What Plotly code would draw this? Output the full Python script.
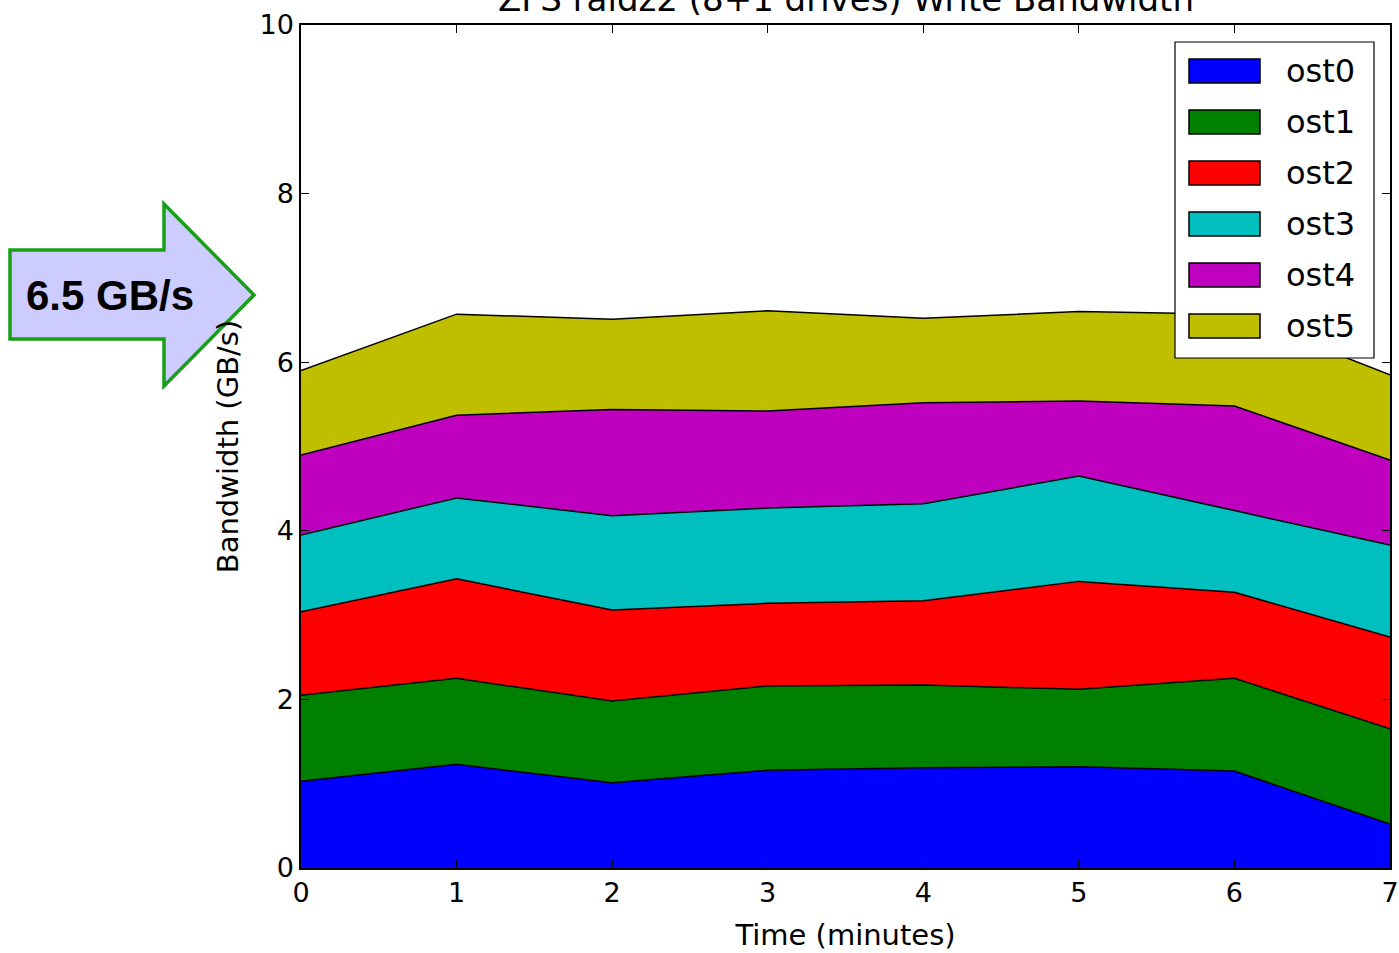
import plotly.graph_objects as go

# ---- data ----
minutes = [0, 1, 2, 3, 4, 5, 6, 7]
ost0 = [1.03, 1.23, 1.01, 1.16, 1.19, 1.20, 1.15, 0.52]
ost1 = [1.02, 1.02, 0.97, 1.00, 0.98, 0.92, 1.10, 1.13]
ost2 = [0.99, 1.18, 1.08, 0.98, 1.00, 1.28, 1.02, 1.09]
ost3 = [0.91, 0.96, 1.12, 1.13, 1.15, 1.25, 0.97, 1.09]
ost4 = [0.95, 0.98, 1.26, 1.15, 1.20, 0.89, 1.24, 1.01]
ost5 = [1.00, 1.20, 1.07, 1.19, 1.00, 1.06, 1.09, 1.01]
series_names = ["ost0", "ost1", "ost2", "ost3", "ost4", "ost5"]
series_values = [ost0, ost1, ost2, ost3, ost4, ost5]
series_colors = ["#0000ff", "#008000", "#ff0000", "#00bfbf", "#bf00bf", "#bfbf00"]
x_ticks = [0, 1, 2, 3, 4, 5, 6, 7]
y_ticks = [0, 2, 4, 6, 8, 10]
title_text = "ZFS raidz2 (8+1 drives) Write Bandwidth"
callout_text = "6.5 GB/s"

W, H = 1399, 953
L, R, T, B = 301, 9, 25, 85
PW, PH = W - L - R, H - T - B

def px(xp):
    return (xp - L) / PW

def py(yp):
    return (H - B - yp) / PH

FONT = "DejaVu Sans"

fig = go.Figure()
for name, vals, col in zip(series_names, series_values, series_colors):
    fig.add_trace(go.Scatter(
        x=minutes, y=vals, name=name, mode="lines",
        stackgroup="one", line=dict(color="black", width=1.5),
        fillcolor=col, showlegend=False,
    ))

axis_common = dict(
    showline=True, linecolor="black", linewidth=1.5, mirror="ticks",
    ticks="inside", ticklen=8, tickwidth=1, tickcolor="black",
    showgrid=False, zeroline=False,
    tickfont=dict(family=FONT, size=27, color="black"),
)

fig.update_layout(
    width=W, height=H,
    margin=dict(l=L, r=R, t=T, b=B, autoexpand=False),
    paper_bgcolor="white", plot_bgcolor="white",
    showlegend=False,
    xaxis=dict(range=[0, 7], tickvals=x_ticks,
               title=dict(text="Time (minutes)", font=dict(family=FONT, size=29, color="black"), standoff=18),
               **axis_common),
    yaxis=dict(range=[0, 10], tickvals=y_ticks,
               title=dict(text="Bandwidth (GB/s)", font=dict(family=FONT, size=29, color="black"), standoff=12),
               **axis_common),
)

# title (partially cut at the top in the reference)
fig.add_annotation(text=title_text, xref="paper", yref="paper",
                   x=0.5, y=py(-1), xanchor="center", yanchor="middle",
                   showarrow=False, font=dict(family=FONT, size=34, color="black"))

# legend drawn manually (matplotlib-style filled swatches)
leg_left, leg_right, leg_top, leg_bottom = 1175, 1374, 42, 358
fig.add_shape(type="rect", xref="paper", yref="paper",
              x0=px(leg_left), x1=px(leg_right), y0=py(leg_bottom), y1=py(leg_top),
              fillcolor="white", line=dict(color="black", width=1.2), layer="above")
first_center, step = 71, 51
for i, (name, col) in enumerate(zip(series_names, series_colors)):
    cy = first_center + i * step
    fig.add_shape(type="rect", xref="paper", yref="paper",
                  x0=px(1189), x1=px(1260), y0=py(cy + 12), y1=py(cy - 12),
                  fillcolor=col, line=dict(color="black", width=1.5), layer="above")
    fig.add_annotation(text=name, xref="paper", yref="paper",
                       x=px(1284), y=py(cy), xanchor="left", yanchor="middle",
                       showarrow=False, font=dict(family=FONT, size=32, color="black"))

# callout arrow (pixel coords converted to paper coords)
arrow_px = [(10, 250), (164, 250), (164, 204), (254, 295), (164, 386), (164, 339), (10, 339)]
path = "M " + " L ".join(f"{px(a):.5f},{py(b):.5f}" for a, b in arrow_px) + " Z"
fig.add_shape(type="path", xref="paper", yref="paper", path=path,
              fillcolor="#ccccff", line=dict(color="#17a017", width=3.5), layer="above")
fig.add_annotation(text=f"<b>{callout_text}</b>", xref="paper", yref="paper",
                   x=px(110), y=py(296), xanchor="center", yanchor="middle",
                   showarrow=False, font=dict(family="Liberation Sans", size=42, color="black"))

fig.write_html("out.html")
